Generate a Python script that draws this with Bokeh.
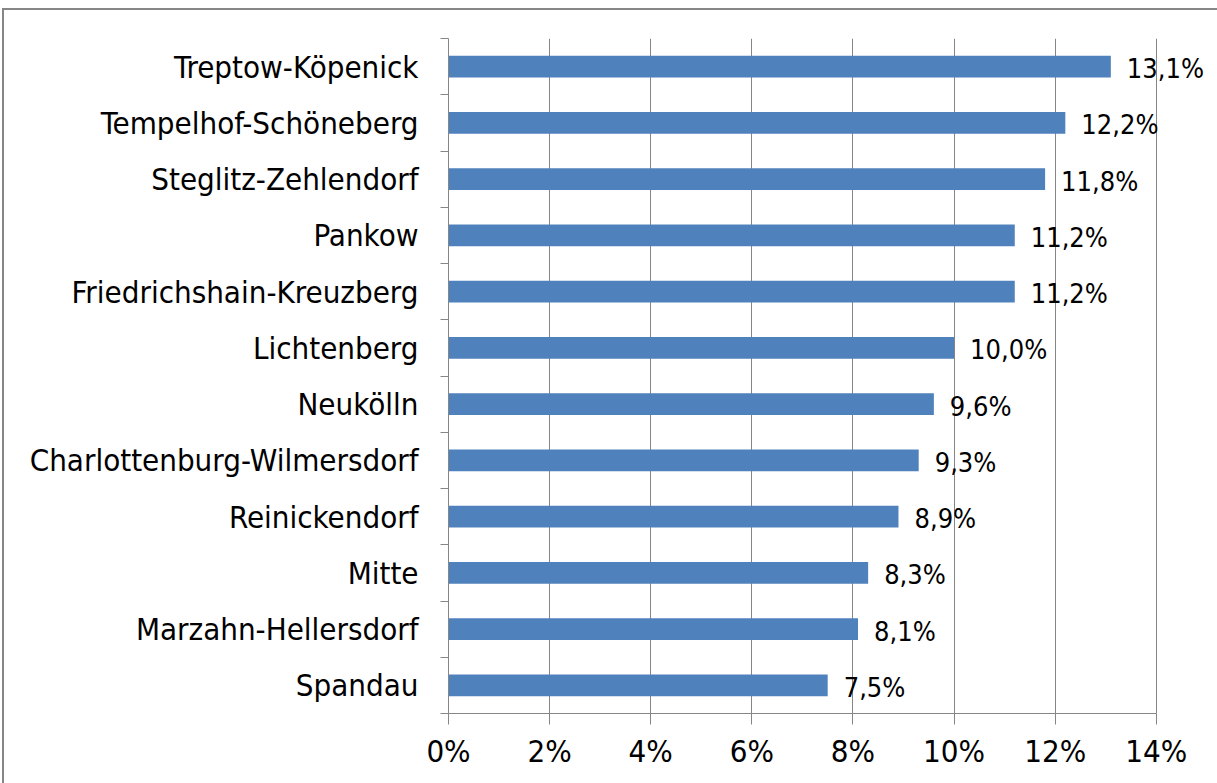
from bokeh.plotting import figure
from bokeh.models import Range1d, FixedTicker, ColumnDataSource, LabelSet
from bokeh.core.properties import value
from bokeh.embed import file_html
from bokeh.resources import INLINE

districts = ["Treptow-Köpenick", "Tempelhof-Schöneberg", "Steglitz-Zehlendorf", "Pankow",
             "Friedrichshain-Kreuzberg", "Lichtenberg", "Neukölln", "Charlottenburg-Wilmersdorf",
             "Reinickendorf", "Mitte", "Marzahn-Hellersdorf", "Spandau"]
shares = [13.1, 12.2, 11.8, 11.2, 11.2, 10.0, 9.6, 9.3, 8.9, 8.3, 8.1, 7.5]
x_ticks = [0, 2, 4, 6, 8, 10, 12, 14]
x_tick_labels = ["0%", "2%", "4%", "6%", "8%", "10%", "12%", "14%"]

FONT = "DejaVu Sans Condensed"
GREY = "#868686"
BLUE = "#4f81bd"

n = len(districts)
pos = [n - 1 - i for i in range(n)]
labels = [f"{v:.1f}%".replace(".", ",") for v in shares]
src = ColumnDataSource(dict(y=pos, v=shares, lab=labels, name=districts))

p = figure(width=1213, height=773, output_backend="svg", toolbar_location=None,
           x_range=Range1d(0, 15.21), y_range=Range1d(-0.5, n - 0.5),
           min_border_left=444, min_border_right=0, min_border_top=28, min_border_bottom=70)
p.outline_line_color = None
p.styles = {"margin-left": "4px", "margin-top": "10px", "outline": f"2px solid {GREY}"}

p.hbar(y="y", left=0, right="v", height=0.39, source=src, fill_color=BLUE, line_color=None)

p.add_layout(LabelSet(x="v", y="y", text="lab", source=src, x_offset=16, y_offset=-2,
                      text_baseline="middle", text_font=value(FONT), text_font_size="27px",
                      text_color="black"))

xa = p.xaxis[0]
xa.ticker = FixedTicker(ticks=x_ticks)
xa.bounds = (0, 14)
xa.major_label_overrides = {t: l for t, l in zip(x_ticks, x_tick_labels)}
xa.major_label_text_font = FONT
xa.major_label_text_font_size = "31px"
xa.major_label_text_color = "black"
xa.axis_line_color = GREY
xa.major_tick_line_color = GREY
xa.major_tick_out = 11
xa.major_tick_in = 0
xa.minor_tick_line_color = None
xa.major_label_standoff = 8

ya = p.yaxis[0]
ya.ticker = FixedTicker(ticks=pos, minor_ticks=[k - 0.5 for k in range(n + 1)])
ya.major_label_overrides = {y: d for y, d in zip(pos, districts)}
ya.major_label_text_font = FONT
ya.major_label_text_font_size = "31px"
ya.major_label_text_color = "black"
ya.axis_line_color = GREY
ya.major_tick_line_color = None
ya.major_tick_out = 0
ya.major_tick_in = 0
ya.minor_tick_line_color = GREY
ya.minor_tick_out = 8
ya.minor_tick_in = 0
ya.major_label_standoff = 22

p.xgrid.ticker = FixedTicker(ticks=x_ticks)
p.xgrid.grid_line_color = GREY
p.ygrid.visible = False

open("out.html", "w").write(file_html(p, INLINE))
